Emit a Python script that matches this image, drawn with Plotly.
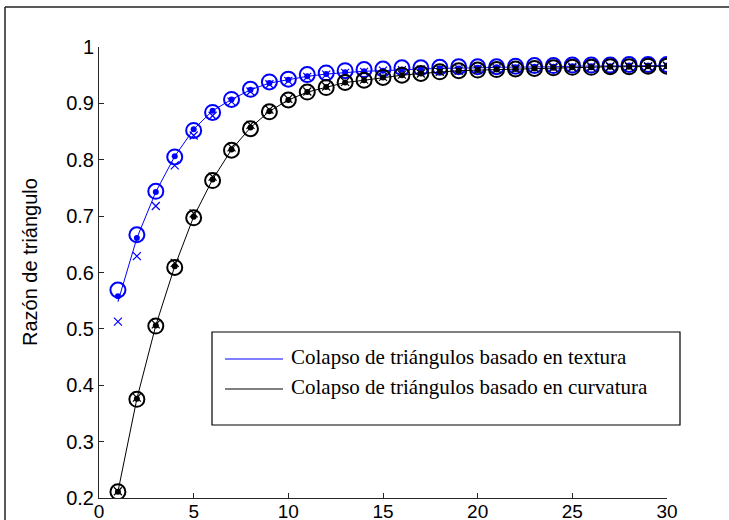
import plotly.graph_objects as go

# ---------------- data ----------------
x_vals = list(range(1, 31))

blue_circle = [0.569, 0.667, 0.744, 0.805, 0.852, 0.884, 0.907, 0.925, 0.938, 0.943,
               0.951, 0.954, 0.958, 0.960, 0.961, 0.963, 0.963, 0.964, 0.965, 0.965,
               0.965, 0.966, 0.967, 0.967, 0.968, 0.968, 0.968, 0.969, 0.969, 0.969]
blue_dot = [0.558, 0.661, 0.743, 0.806, 0.854, 0.887, 0.907, 0.924, 0.936, 0.942,
            0.948, 0.952, 0.955, 0.957, 0.958, 0.960, 0.961, 0.962, 0.962, 0.963,
            0.964, 0.964, 0.965, 0.965, 0.966, 0.966, 0.966, 0.967, 0.967, 0.967]
blue_cross = [0.513, 0.629, 0.718, 0.790, 0.843, 0.878, 0.903, 0.921, 0.934, 0.940,
              0.947, 0.951, 0.954, 0.956, 0.958, 0.959, 0.960, 0.961, 0.962, 0.962,
              0.963, 0.964, 0.964, 0.965, 0.965, 0.966, 0.966, 0.966, 0.966, 0.967]
blue_line = [0.548, 0.661, 0.743, 0.806, 0.854, 0.887, 0.907, 0.924, 0.936, 0.942,
             0.948, 0.952, 0.955, 0.957, 0.958, 0.960, 0.961, 0.962, 0.962, 0.963,
             0.964, 0.964, 0.965, 0.965, 0.966, 0.966, 0.966, 0.967, 0.967, 0.967]

black_circle = [0.211, 0.375, 0.505, 0.609, 0.697, 0.763, 0.817, 0.855, 0.885, 0.906,
                0.920, 0.928, 0.937, 0.941, 0.946, 0.950, 0.953, 0.956, 0.958, 0.959,
                0.960, 0.961, 0.962, 0.963, 0.964, 0.964, 0.965, 0.965, 0.966, 0.966]
black_dot = [0.211, 0.376, 0.506, 0.611, 0.699, 0.765, 0.818, 0.857, 0.886, 0.906,
             0.920, 0.929, 0.937, 0.941, 0.946, 0.950, 0.953, 0.956, 0.958, 0.959,
             0.960, 0.961, 0.962, 0.963, 0.964, 0.964, 0.965, 0.965, 0.966, 0.966]
black_cross = [0.212, 0.378, 0.508, 0.617, 0.705, 0.770, 0.822, 0.862, 0.889, 0.908,
               0.921, 0.930, 0.938, 0.942, 0.947, 0.951, 0.953, 0.956, 0.958, 0.959,
               0.960, 0.961, 0.962, 0.963, 0.963, 0.964, 0.965, 0.965, 0.965, 0.966]
black_line = [0.211, 0.376, 0.506, 0.611, 0.699, 0.765, 0.818, 0.857, 0.886, 0.906,
              0.920, 0.929, 0.937, 0.941, 0.946, 0.950, 0.953, 0.956, 0.958, 0.959,
              0.960, 0.961, 0.962, 0.963, 0.964, 0.964, 0.965, 0.965, 0.966, 0.966]

x_ticks = [0, 5, 10, 15, 20, 25, 30]
y_ticks = [0.2, 0.3, 0.4, 0.5, 0.6, 0.7, 0.8, 0.9, 1.0]
y_tick_text = ["0.2", "0.3", "0.4", "0.5", "0.6", "0.7", "0.8", "0.9", "1"]

legend_labels = ["Colapso de triángulos basado en textura",
                 "Colapso de triángulos basado en curvatura"]
y_title = "Razón de triángulo"

BLUE = "#0000FF"
BLACK = "#000000"

# ---------------- layout geometry ----------------
W, H = 729, 520
L, R, T, B = 99, 62, 47, 22
PW, PH = W - L - R, H - T - B


def px_x(p):
    return (p - L) / PW


def px_y(p):
    return (H - B - p) / PH


fig = go.Figure()


def add_series(line_vals, circ, dot, cross, color):
    fig.add_trace(go.Scatter(x=x_vals, y=line_vals, mode="lines",
                             line=dict(color=color, width=1), showlegend=False,
                             hoverinfo="skip"))
    fig.add_trace(go.Scatter(x=x_vals, y=circ, mode="markers",
                             marker=dict(symbol="circle-open", size=15,
                                         color=color, line=dict(width=2, color=color)),
                             showlegend=False))
    fig.add_trace(go.Scatter(x=x_vals, y=cross, mode="markers",
                             marker=dict(symbol="x-thin-open", size=8,
                                         color=color, line=dict(width=1.2, color=color)),
                             showlegend=False))
    fig.add_trace(go.Scatter(x=x_vals, y=dot, mode="markers",
                             marker=dict(symbol="circle", size=6, color=color,
                                         line=dict(width=0)),
                             showlegend=False))


add_series(blue_line, blue_circle, blue_dot, blue_cross, BLUE)
add_series(black_line, black_circle, black_dot, black_cross, BLACK)

AX = "#262626"
TICKFONT = dict(family="Liberation Sans", size=19, color="#000")
fig.update_xaxes(range=[0, 30], tickmode="array", tickvals=x_ticks,
                 ticks="inside", ticklen=5, tickcolor=AX, tickwidth=1,
                 showline=True, linecolor=AX, linewidth=1, showgrid=False,
                 zeroline=False, automargin=False, tickfont=TICKFONT,
                 ticklabelstandoff=-4)
fig.update_yaxes(range=[0.2, 1.0], tickmode="array", tickvals=y_ticks,
                 ticktext=y_tick_text,
                 ticks="inside", ticklen=5, tickcolor=AX, tickwidth=1,
                 showline=True, linecolor=AX, linewidth=1, showgrid=False,
                 zeroline=False, automargin=False,
                 tickfont=dict(family="Liberation Sans", size=20, color="#000"))

shapes = []
# outer frame (top and left edges visible)
shapes.append(dict(type="line", xref="paper", yref="paper",
                   x0=px_x(5), x1=px_x(729), y0=px_y(7), y1=px_y(7),
                   line=dict(color="#222", width=1.5)))
shapes.append(dict(type="line", xref="paper", yref="paper",
                   x0=px_x(5), x1=px_x(5), y0=px_y(7), y1=px_y(520),
                   line=dict(color="#222", width=1.5)))
# legend box
shapes.append(dict(type="rect", xref="paper", yref="paper",
                   x0=px_x(212), x1=px_x(680), y0=px_y(425), y1=px_y(332),
                   line=dict(color="#000", width=1.2), fillcolor="white",
                   layer="above"))
annotations = []
for lbl, color, yy in zip(legend_labels, [BLUE, BLACK], [359, 389]):
    shapes.append(dict(type="line", xref="paper", yref="paper",
                       x0=px_x(225), x1=px_x(283), y0=px_y(yy), y1=px_y(yy),
                       line=dict(color=color, width=1), layer="above"))
    annotations.append(dict(text=lbl, xref="paper", yref="paper",
                            x=px_x(289), y=px_y(yy - 2), xanchor="left",
                            yanchor="middle", showarrow=False,
                            font=dict(family="Liberation Serif", size=21,
                                      color="#000")))

annotations.append(dict(text=y_title, xref="paper", yref="paper",
                        x=px_x(30), y=px_y(262), textangle=-90,
                        xanchor="center", yanchor="middle", showarrow=False,
                        font=dict(family="Liberation Sans", size=20, color="#000")))

fig.update_layout(width=W, height=H,
                  margin=dict(l=L, r=R, t=T, b=B, pad=0),
                  paper_bgcolor="white", plot_bgcolor="white",
                  shapes=shapes, annotations=annotations, showlegend=False)

fig.write_html("out.html", config={"displayModeBar": False},
               post_script="document.body.style.margin='0';"
                           "document.body.style.overflow='hidden';")
